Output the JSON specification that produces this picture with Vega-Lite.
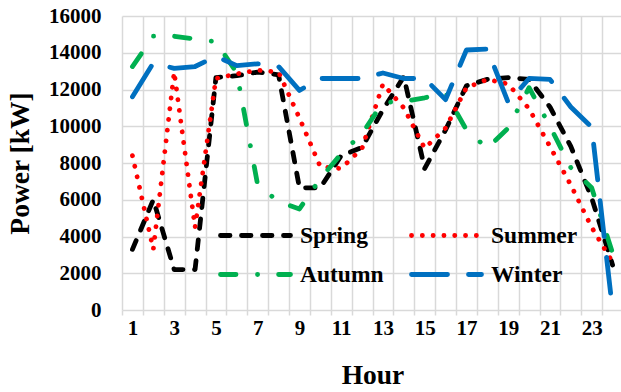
{
  "$schema": "https://vega.github.io/schema/vega-lite/v6.json",
  "width": 501,
  "height": 294,
  "autosize": {"type": "none"},
  "padding": {"left": 122, "top": 16, "right": 0, "bottom": 82},
  "background": "white",
  "config": {
    "font": "Liberation Serif",
    "view": {"stroke": null}
  },
  "data": {
    "values": [
      {"hour": 1, "Spring": 3300, "Summer": 8400, "Autumn": 13250, "Winter": 11600},
      {"hour": 2, "Spring": 6000, "Summer": 3300, "Autumn": 14900, "Winter": 13450},
      {"hour": 3, "Spring": 2200, "Summer": 12950, "Autumn": 14900, "Winter": 13150},
      {"hour": 4, "Spring": 2200, "Summer": 4500, "Autumn": 14750, "Winter": 13250},
      {"hour": 5, "Spring": 12650, "Summer": 12600, "Autumn": 14600, "Winter": 13800},
      {"hour": 6, "Spring": 12750, "Summer": 12850, "Autumn": 12900, "Winter": 13300},
      {"hour": 7, "Spring": 12950, "Summer": 13050, "Autumn": 6800, "Winter": 13400},
      {"hour": 8, "Spring": 12800, "Summer": 12950, "Autumn": 5900, "Winter": 13250},
      {"hour": 9, "Spring": 6650, "Summer": 10450, "Autumn": 5500, "Winter": 11950},
      {"hour": 10, "Spring": 6650, "Summer": 7800, "Autumn": 7150, "Winter": 12600},
      {"hour": 11, "Spring": 8400, "Summer": 7700, "Autumn": 8500, "Winter": 12600},
      {"hour": 12, "Spring": 8850, "Summer": 8800, "Autumn": 9600, "Winter": 12600},
      {"hour": 13, "Spring": 10900, "Summer": 12300, "Autumn": 11300, "Winter": 12900},
      {"hour": 14, "Spring": 12700, "Summer": 11000, "Autumn": 11350, "Winter": 12600},
      {"hour": 15, "Spring": 7700, "Summer": 8800, "Autumn": 11550, "Winter": 12600},
      {"hour": 16, "Spring": 9800, "Summer": 9900, "Autumn": 11800, "Winter": 11450},
      {"hour": 17, "Spring": 12200, "Summer": 12100, "Autumn": 9800, "Winter": 14150},
      {"hour": 18, "Spring": 12550, "Summer": 12550, "Autumn": 8800, "Winter": 14200},
      {"hour": 19, "Spring": 12650, "Summer": 12300, "Autumn": 9900, "Winter": 11300},
      {"hour": 20, "Spring": 12550, "Summer": 10950, "Autumn": 12100, "Winter": 12600},
      {"hour": 21, "Spring": 11050, "Summer": 8900, "Autumn": 10000, "Winter": 12550},
      {"hour": 22, "Spring": 8900, "Summer": 6800, "Autumn": 7750, "Winter": 11050},
      {"hour": 23, "Spring": 6100, "Summer": 4500, "Autumn": 6650, "Winter": 9950},
      {"hour": 24, "Spring": 2450, "Summer": 2600, "Autumn": 3100, "Winter": 0}
    ]
  },
  "transform": [
    {"fold": ["Spring", "Summer", "Autumn", "Winter"], "as": ["season", "power"]}
  ],
  "mark": {"type": "line", "strokeWidth": 4.8, "strokeCap": "round", "strokeJoin": "round"},
  "encoding": {
    "x": {
      "field": "hour",
      "type": "quantitative",
      "scale": {"domain": [0.5, 24.5], "nice": false, "zero": false},
      "axis": {
        "title": "Hour",
        "titleFontSize": 27.5,
        "titleFontWeight": "bold",
        "titleColor": "black",
        "titlePadding": 23,
        "values": [0.5, 1, 1.5, 2, 2.5, 3, 3.5, 4, 4.5, 5, 5.5, 6, 6.5, 7, 7.5, 8, 8.5, 9, 9.5, 10, 10.5, 11, 11.5, 12, 12.5, 13, 13.5, 14, 14.5, 15, 15.5, 16, 16.5, 17, 17.5, 18, 18.5, 19, 19.5, 20, 20.5, 21, 21.5, 22, 22.5, 23, 23.5, 24, 24.5],
        "labelExpr": "datum.value % 2 === 1 ? datum.value : ''",
        "labelOverlap": false,
        "labelFontSize": 21,
        "labelFontWeight": "bold",
        "labelColor": "black",
        "labelPadding": 2,
        "labelFlush": false,
        "grid": true,
        "gridColor": "#d9d9d9",
        "gridWidth": 1.5,
        "gridOpacity": {"condition": {"test": "datum.value % 1 !== 0", "value": 1}, "value": 0},
        "ticks": true,
        "tickSize": 5,
        "tickColor": "#d9d9d9",
        "tickWidth": 1.5,
        "tickOpacity": {"condition": {"test": "datum.value % 1 !== 0", "value": 1}, "value": 0},
        "domain": false
      }
    },
    "y": {
      "field": "power",
      "type": "quantitative",
      "scale": {"domain": [0, 16000], "nice": false},
      "axis": {
        "title": "Power [kW]",
        "titleFontSize": 27.5,
        "titleFontWeight": "bold",
        "titleColor": "black",
        "titlePadding": 14,
        "values": [0, 2000, 4000, 6000, 8000, 10000, 12000, 14000, 16000],
        "format": "d",
        "labelFontSize": 21,
        "labelFontWeight": "bold",
        "labelColor": "black",
        "labelPadding": 21,
        "grid": true,
        "gridColor": "#d9d9d9",
        "gridWidth": 1.5,
        "ticks": false,
        "domain": false
      }
    },
    "color": {
      "field": "season",
      "type": "nominal",
      "scale": {"domain": ["Spring", "Summer", "Autumn", "Winter"], "range": ["#000000", "#FF0000", "#00B050", "#0070C0"]},
      "legend": {
        "title": null,
        "orient": "none",
        "legendX": 96,
        "legendY": 207,
        "direction": "horizontal",
        "columns": 2,
        "columnPadding": 17,
        "rowPadding": 15,
        "symbolType": "M-1,0H6",
        "symbolSize": 400,
        "symbolStrokeWidth": 4.8,
        "labelFontSize": 23.5,
        "labelFontWeight": "bold",
        "labelColor": "black",
        "labelOffset": 57,
        "labelLimit": 200,
        "encode": {"symbols": {"update": {"strokeCap": {"value": "round"}}}}
      }
    },
    "strokeDash": {
      "field": "season",
      "type": "nominal",
      "scale": {"domain": ["Spring", "Summer", "Autumn", "Winter"], "range": [[9.5, 11.5], [0.1, 10.7], [15.5, 21.5, 0.1, 21], [36, 21]]},
      "legend": null
    }
  }
}
